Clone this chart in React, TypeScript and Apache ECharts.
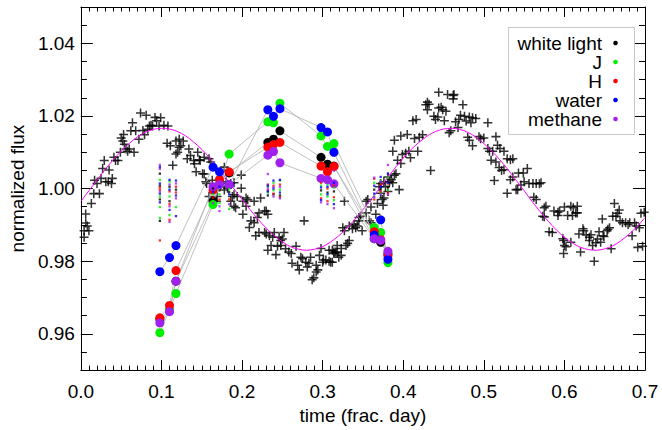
import { useEffect, useRef } from 'react';
import * as echarts from 'echarts';

// ---------- data ----------
// white-light photometry: [time (frac. day), normalized flux]
const whiteLight: number[][] = [
  [0.004, 0.9866], [0.004, 0.9884], [0.006, 0.9905], [0.008, 0.9897], [0.010, 0.9884], [0.006, 0.9930],
  [0.013, 0.9959], [0.016, 0.9986], [0.023, 0.9986], [0.017, 1.0023], [0.020, 1.0014], [0.025, 1.0028],
  [0.027, 1.0055], [0.029, 1.0077], [0.031, 1.0019], [0.034, 1.0019], [0.035, 1.0051], [0.038, 1.0014],
  [0.039, 1.0028], [0.041, 1.0086], [0.043, 1.0077], [0.046, 1.0077], [0.049, 1.0100], [0.050, 1.0139],
  [0.052, 1.0131], [0.054, 1.0122], [0.053, 1.0149], [0.056, 1.0109], [0.060, 1.0109], [0.058, 1.0103],
  [0.062, 1.0159], [0.064, 1.0181], [0.066, 1.0100], [0.068, 1.0159], [0.072, 1.0136], [0.074, 1.0208],
  [0.077, 1.0160], [0.079, 1.0148], [0.081, 1.0202], [0.083, 1.0163], [0.085, 1.0172], [0.087, 1.0174],
  [0.089, 1.0172], [0.092, 1.0196], [0.094, 1.0187], [0.097, 1.0172], [0.099, 1.0195], [0.103, 1.0174],
  [0.108, 1.0172], [0.107, 1.0125], [0.111, 1.0118], [0.114, 1.0064], [0.118, 1.0131], [0.120, 1.0100],
  [0.122, 1.0114], [0.124, 1.0118], [0.127, 1.0131], [0.122, 1.0136], [0.118, 1.0095], [0.134, 1.0109],
  [0.136, 1.0091], [0.132, 1.0082], [0.145, 1.0100], [0.141, 1.0068], [0.143, 1.0046], [0.147, 1.0079],
  [0.153, 1.0040], [0.156, 1.0014], [0.165, 1.0001], [0.169, 0.9978], [0.178, 1.0059], [0.199, 1.0037],
  [0.190, 0.9983], [0.194, 0.9978], [0.201, 0.9965], [0.215, 0.9965], [0.205, 0.9951], [0.201, 0.9929],
  [0.211, 0.9911], [0.209, 0.9893], [0.221, 0.9933], [0.219, 0.9920], [0.221, 0.9879],
  [0.140, 1.0077], [0.148, 1.0077], [0.153, 1.0086], [0.159, 1.0082], [0.161, 1.0073], [0.151, 1.0041],
  [0.155, 1.0019], [0.163, 1.0023], [0.176, 1.0014], [0.180, 1.0019], [0.186, 1.0014], [0.178, 0.9996],
  [0.182, 1.0001], [0.159, 0.9978], [0.168, 0.9965], [0.188, 0.9978], [0.186, 0.9965], [0.190, 0.9951],
  [0.192, 0.9947], [0.205, 0.9974], [0.199, 1.0001],
  [0.190, 1.0016], [0.207, 0.9969], [0.223, 0.9974], [0.215, 0.9906], [0.217, 0.9870], [0.228, 0.9938],
  [0.230, 0.9938], [0.232, 0.9929], [0.228, 0.9879], [0.230, 0.9875], [0.234, 0.9870], [0.240, 0.9879],
  [0.252, 0.9879], [0.238, 0.9866], [0.246, 0.9866], [0.248, 0.9857], [0.250, 0.9861], [0.236, 0.9843],
  [0.244, 0.9841], [0.248, 0.9843], [0.254, 0.9834], [0.258, 0.9825], [0.261, 0.9821], [0.232, 0.9830],
  [0.242, 0.9818], [0.267, 0.9841], [0.277, 0.9911],
  [0.262, 0.9794], [0.269, 0.9789], [0.273, 0.9811], [0.275, 0.9807], [0.279, 0.9797], [0.285, 0.9811],
  [0.283, 0.9794], [0.292, 0.9789], [0.296, 0.9816], [0.300, 0.9797], [0.301, 0.9803],
  [0.271, 0.9776], [0.281, 0.9784], [0.292, 0.9770], [0.294, 0.9776], [0.289, 0.9754], [0.287, 0.9749],
  [0.304, 0.9803], [0.308, 0.9800], [0.310, 0.9797],
  [0.298, 0.9835], [0.308, 0.9830], [0.312, 0.9830], [0.314, 0.9825], [0.323, 0.9816], [0.323, 0.9835],
  [0.318, 0.9824], [0.329, 0.9843], [0.331, 0.9849],
  [0.327, 0.9884], [0.333, 0.9897], [0.337, 0.9889], [0.341, 0.9892], [0.343, 0.9897], [0.347, 0.9924],
  [0.345, 0.9920], [0.325, 0.9892], [0.327, 0.9965],
  [0.354, 0.9965], [0.356, 0.9970], [0.360, 0.9949], [0.368, 0.9959], [0.375, 0.9954],
  [0.387, 1.0103], [0.403, 1.0097], [0.407, 1.0103], [0.418, 1.0103], [0.409, 1.0085], [0.393, 1.0078],
  [0.397, 1.0069], [0.391, 1.0041], [0.389, 1.0037], [0.385, 1.0024], [0.383, 1.0019], [0.395, 0.9997],
  [0.376, 1.0019], [0.372, 1.0014], [0.370, 1.0005], [0.378, 1.0005],
  [0.372, 0.9987], [0.376, 0.9974], [0.374, 0.9970], [0.354, 0.9933], [0.345, 0.9911], [0.339, 0.9902],
  [0.349, 0.9884], [0.358, 0.9911], [0.360, 0.9906], [0.434, 1.0050], [0.366, 0.9929],
  [0.333, 0.9857], [0.318, 0.9843], [0.316, 0.9825], [0.314, 0.9821], [0.312, 0.9797], [0.320, 0.9811],
  [0.444, 1.0265], [0.455, 1.0259], [0.462, 1.0256], [0.463, 1.0259], [0.462, 1.0247], [0.430, 1.0238],
  [0.428, 1.0231], [0.432, 1.0232], [0.430, 1.0217], [0.444, 1.0222], [0.449, 1.0217], [0.447, 1.0224],
  [0.453, 1.0213], [0.438, 1.0199], [0.440, 1.0190], [0.443, 1.0197], [0.451, 1.0187], [0.474, 1.0231],
  [0.471, 1.0202], [0.476, 1.0199], [0.482, 1.0197], [0.486, 1.0195], [0.490, 1.0193], [0.465, 1.0184],
  [0.469, 1.0190], [0.478, 1.0186], [0.484, 1.0181], [0.457, 1.0154], [0.459, 1.0159], [0.468, 1.0168],
  [0.412, 1.0187], [0.416, 1.0190], [0.389, 1.0133], [0.397, 1.0145], [0.405, 1.0149], [0.414, 1.0138],
  [0.420, 1.0141], [0.424, 1.0148], [0.399, 1.0094],
  [0.381, 1.0032], [0.387, 1.0016], [0.381, 0.9992],
  [0.480, 1.0141], [0.482, 1.0133], [0.486, 1.0118], [0.494, 1.0143], [0.496, 1.0137], [0.500, 1.0139],
  [0.505, 1.0181], [0.515, 1.0143], [0.517, 1.0119], [0.520, 1.0110], [0.525, 1.0103], [0.505, 1.0110],
  [0.507, 1.0103], [0.511, 1.0103],
  [0.509, 1.0078], [0.515, 1.0073], [0.519, 1.0058], [0.522, 1.0050], [0.525, 1.0052], [0.529, 1.0082],
  [0.533, 1.0079], [0.536, 1.0082],
  [0.513, 1.0022], [0.529, 0.9987], [0.533, 1.0024], [0.536, 1.0032], [0.540, 0.9997], [0.542, 0.9997],
  [0.546, 1.0010], [0.550, 1.0019], [0.554, 1.0055], [0.556, 1.0014], [0.561, 1.0014], [0.565, 1.0014],
  [0.569, 1.0013], [0.571, 1.0016], [0.543, 1.0043], [0.549, 1.0043],
  [0.562, 0.9976], [0.565, 0.9970],
  [0.575, 0.9947], [0.577, 0.9951], [0.573, 0.9924], [0.575, 0.9922],
  [0.581, 0.9881], [0.585, 0.9879], [0.587, 0.9938], [0.592, 0.9935], [0.592, 0.9926], [0.594, 0.9938],
  [0.600, 0.9949], [0.604, 0.9926], [0.608, 0.9951], [0.611, 0.9947], [0.610, 0.9926], [0.616, 0.9951],
  [0.616, 0.9933], [0.614, 0.9933],
  [0.599, 0.9857], [0.600, 0.9843], [0.599, 0.9821], [0.608, 0.9852], [0.618, 0.9875], [0.623, 0.9889],
  [0.620, 0.9825], [0.627, 0.9872], [0.631, 0.9866], [0.631, 0.9857], [0.637, 0.9800], [0.635, 0.9843],
  [0.641, 0.9861], [0.643, 0.9881], [0.645, 0.9852], [0.648, 0.9870], [0.656, 0.9892], [0.653, 0.9884],
  [0.660, 0.9924], [0.662, 0.9959], [0.666, 0.9932], [0.668, 0.9941], [0.669, 0.9911], [0.672, 0.9906],
  [0.676, 0.9906], [0.679, 0.9901], [0.681, 0.9906], [0.684, 0.9870], [0.687, 0.9906], [0.689, 0.9897],
  [0.693, 0.9892], [0.695, 0.9932], [0.699, 0.9935], [0.691, 0.9838], [0.697, 0.9841],
  [0.598, 0.9862], [0.602, 0.9840], [0.624, 0.9884], [0.633, 0.9873], [0.639, 0.9851], [0.647, 0.9916],
  [0.649, 0.9868], [0.654, 0.9888], [0.658, 0.9834], [0.664, 0.9924],
];

// sinusoidal model (magenta), read every 0.01 day
const modelTime = [
  0.00, 0.01, 0.02, 0.03, 0.04, 0.05, 0.06, 0.07, 0.08, 0.09, 0.10, 0.11, 0.12, 0.13, 0.14, 0.15, 0.16, 0.17,
  0.18, 0.19, 0.20, 0.21, 0.22, 0.23, 0.24, 0.25, 0.26, 0.27, 0.28, 0.29, 0.30, 0.31, 0.32, 0.33, 0.34, 0.35,
  0.36, 0.37, 0.38, 0.39, 0.40, 0.41, 0.42, 0.43, 0.44, 0.45, 0.46, 0.47, 0.48, 0.49, 0.50, 0.51, 0.52, 0.53,
  0.54, 0.55, 0.56, 0.57, 0.58, 0.59, 0.60, 0.61, 0.62, 0.63, 0.64, 0.65, 0.66, 0.67, 0.68, 0.69, 0.70,
];
const modelFlux = [
  0.9965, 0.9994, 1.0023, 1.0052, 1.0079, 1.0103, 1.0124, 1.0142, 1.0155, 1.0163, 1.0166, 1.0164, 1.0157,
  1.0145, 1.0128, 1.0108, 1.0084, 1.0057, 1.0029, 0.9999, 0.9970, 0.9942, 0.9915, 0.9891, 0.9870, 0.9853,
  0.9840, 0.9833, 0.9830, 0.9833, 0.9840, 0.9853, 0.9870, 0.9891, 0.9915, 0.9942, 0.9970, 0.9999, 1.0029,
  1.0057, 1.0084, 1.0108, 1.0128, 1.0145, 1.0157, 1.0164, 1.0166, 1.0163, 1.0155, 1.0142, 1.0124, 1.0103,
  1.0079, 1.0052, 1.0023, 0.9994, 0.9964, 0.9936, 0.9910, 0.9886, 0.9866, 0.9850, 0.9838, 0.9832, 0.9830,
  0.9834, 0.9842, 0.9856, 0.9874, 0.9895, 0.9920,
];

// multi-band points (large circles), 5 visits x 3 exposures
const bandTime = [
  0.098, 0.110, 0.118, 0.164, 0.172, 0.184, 0.232, 0.239, 0.247, 0.298, 0.306, 0.314, 0.364, 0.372, 0.381,
];
const whiteBand = [
  0.9640, 0.9665, 0.9745, 0.9965, 1.0011, 1.0043, 1.0127, 1.0136, 1.0159, 1.0086, 1.0067, 1.0062, 0.9862, 0.9852, 0.9820,
];
const jBand = [
  0.9603, 0.9665, 0.9711, 0.9956, 1.0011, 1.0095, 1.0184, 1.0181, 1.0235, 1.0145, 1.0116, 1.0124, 0.9893, 0.9879, 0.9796,
];
const hBand = [
  0.9644, 0.9678, 0.9774, 0.9996, 1.0025, 1.0046, 1.0114, 1.0121, 1.0127, 1.0062, 1.0046, 1.0061, 0.9881, 0.9859, 0.9815,
];
const waterBand = [
  0.9771, 0.9810, 0.9843, 1.0059, 1.0046, 1.0011, 1.0217, 1.0199, 1.0220, 1.0168, 1.0156, 1.0100, 0.9872, 0.9914, 0.9805,
];
const methaneBand = [
  0.9630, 0.9661, 0.9745, 1.0005, 1.0011, 1.0011, 1.0092, 1.0102, 1.0071, 1.0028, 1.0024, 1.0013, 0.9862, 0.9857, 0.9827,
];

// comparison-star values (small dots): [time, flux]
const whiteDots = [
  [0.098, 1.0041], [0.098, 1.0008], [0.098, 0.9970], [0.098, 0.9911],
  [0.110, 1.0005], [0.110, 0.9965], [0.118, 0.9997],
  [0.164, 1.0000], [0.172, 0.9995], [0.184, 0.9990],
  [0.232, 0.9981], [0.239, 0.9984], [0.247, 0.9981],
  [0.298, 0.9995], [0.306, 0.9989], [0.314, 0.9992],
  [0.364, 0.9997], [0.372, 1.0000], [0.381, 1.0005],
];
const jDots = [
  [0.098, 1.0024], [0.098, 0.9978], [0.098, 0.9949], [0.098, 0.9919],
  [0.110, 1.0019], [0.110, 0.9978], [0.110, 0.9927], [0.118, 0.9949],
  [0.164, 0.9985], [0.172, 0.9984], [0.172, 0.9960], [0.184, 0.9998], [0.184, 0.9944],
  [0.232, 1.0005], [0.232, 0.9989], [0.239, 1.0016], [0.239, 0.9995], [0.247, 1.0022], [0.247, 0.9997],
  [0.298, 1.0008], [0.298, 0.9984], [0.306, 1.0011], [0.306, 0.9978], [0.314, 1.0003], [0.314, 0.9968],
  [0.364, 1.0016], [0.364, 0.9978], [0.372, 1.0022], [0.372, 0.9989], [0.381, 1.0030], [0.381, 0.9995],
];
const hDots = [
  [0.098, 1.0003], [0.098, 0.9997], [0.098, 0.9857],
  [0.110, 0.9992], [0.110, 0.9957], [0.110, 0.9914], [0.118, 1.0005], [0.118, 0.9989],
  [0.164, 0.9975], [0.172, 0.9970], [0.184, 0.9970],
  [0.232, 1.0011], [0.232, 0.9995], [0.239, 1.0008], [0.239, 0.9986], [0.247, 1.0011], [0.247, 0.9976],
  [0.298, 1.0016], [0.298, 0.9973], [0.306, 1.0000], [0.306, 0.9965], [0.314, 1.0008], [0.314, 0.9976],
  [0.364, 1.0027], [0.364, 0.9970], [0.372, 1.0011], [0.372, 0.9992], [0.381, 1.0014], [0.381, 0.9989],
];
const waterDots = [
  [0.098, 1.0059], [0.098, 1.0014], [0.098, 0.9986], [0.098, 0.9962],
  [0.110, 1.0024], [0.110, 0.9997], [0.110, 0.9941], [0.118, 1.0022], [0.118, 0.9981], [0.118, 0.9924],
  [0.164, 0.9990], [0.172, 1.0005], [0.184, 0.9984],
  [0.232, 1.0008], [0.232, 0.9992], [0.239, 1.0022], [0.239, 1.0000], [0.247, 1.0024], [0.247, 0.9989],
  [0.298, 1.0003], [0.298, 0.9968], [0.306, 1.0005], [0.306, 0.9984], [0.314, 1.0016], [0.314, 0.9957],
  [0.364, 1.0008], [0.364, 0.9986], [0.372, 1.0032], [0.372, 1.0005], [0.381, 1.0041], [0.381, 1.0016],
];
const methaneDots = [
  [0.098, 1.0065], [0.098, 1.0054], [0.098, 0.9992],
  [0.110, 1.0011], [0.110, 0.9951], [0.110, 0.9908], [0.118, 1.0014], [0.118, 0.9973],
  [0.164, 0.9960], [0.172, 0.9951], [0.172, 0.9938], [0.184, 0.9957],
  [0.232, 1.0040], [0.232, 1.0000], [0.239, 1.0003], [0.239, 0.9978], [0.247, 1.0005], [0.247, 0.9973],
  [0.298, 1.0022], [0.298, 0.9962], [0.306, 1.0016], [0.306, 0.9957], [0.314, 1.0049], [0.314, 0.9946],
  [0.364, 1.0030], [0.364, 0.9976], [0.372, 1.0019], [0.372, 0.9984], [0.381, 1.0065], [0.381, 0.9984],
];

const legendNames = ['white light', 'J', 'H', 'water', 'methane'];
const yMajorTicks = [0.96, 0.98, 1.0, 1.02, 1.04];
const yMinorTicks = [
  0.955, 0.96, 0.965, 0.97, 0.975, 0.98, 0.985, 0.99, 0.995, 1.0, 1.005, 1.01, 1.015, 1.02, 1.025, 1.03,
  1.035, 1.04, 1.045,
];

// ---------- styling ----------
const FONT = 'Liberation Sans';
const FS = 19;
const COLORS = ['#000000', '#00ee00', '#ff0000', '#0000ff', '#a020f0'];
const CROSS = 'path://M-5,-0.85 H5 V0.85 H-5 Z M-0.85,-5 H0.85 V5 H-0.85 Z';

export default function App() {
  const ref = useRef<HTMLDivElement>(null);

  useEffect(() => {
    if (!ref.current) return;
    const chart = echarts.init(ref.current, null, { renderer: 'svg' });

    const bands = [whiteBand, jBand, hBand, waterBand, methaneBand];
    const dots = [whiteDots, jDots, hDots, waterDots, methaneDots];

    const xBase = (pos: 'top' | 'bottom', labels: boolean) => ({
      type: 'value',
      min: 0,
      max: 0.7,
      interval: 0.1,
      position: pos,
      axisLine: { show: true, onZero: false, lineStyle: { color: '#000', width: 1 } },
      axisTick: { show: true, inside: true, length: 10, lineStyle: { color: '#000', width: 1 } },
      minorTick: { show: true, splitNumber: 10, length: 4.5, lineStyle: { color: '#000', width: 1 } },
      splitLine: { show: false },
      minorSplitLine: { show: false },
      axisLabel: {
        show: labels,
        formatter: (v: number) => v.toFixed(1),
        fontFamily: FONT,
        fontSize: FS,
        color: '#000',
        margin: 12,
      },
    });

    const yBase = (pos: 'left' | 'right', major: boolean, labels: boolean) => ({
      type: 'value',
      min: 0.95,
      max: 1.05,
      position: pos,
      axisLine: { show: major, onZero: false, lineStyle: { color: '#000', width: 1 } },
      axisTick: {
        show: true,
        inside: true,
        length: major ? 12 : 6,
        customValues: major ? yMajorTicks : yMinorTicks,
        lineStyle: { color: '#000', width: 1 },
      },
      splitLine: { show: false },
      axisLabel: {
        show: labels,
        customValues: yMajorTicks,
        formatter: (v: number) => v.toFixed(2),
        fontFamily: FONT,
        fontSize: FS,
        color: '#000',
        margin: 6,
      },
    });

    const xAxis = [
      {
        ...xBase('bottom', true),
        name: 'time (frac. day)',
        nameLocation: 'middle',
        nameGap: 33,
        nameTextStyle: { fontFamily: FONT, fontSize: FS, color: '#000' },
      },
      xBase('top', false),
    ];
    const yAxis = [
      {
        ...yBase('left', true, true),
        name: 'normalized flux',
        nameLocation: 'middle',
        nameGap: 48,
        nameTextStyle: { fontFamily: FONT, fontSize: FS, color: '#000' },
      },
      yBase('left', false, false),
      yBase('right', true, false),
      yBase('right', false, false),
    ];

    const series: any[] = [
      {
        type: 'scatter',
        name: 'white light photometry',
        data: whiteLight,
        symbol: CROSS,
        symbolSize: [9, 9],
        itemStyle: { color: '#000' },
        silent: true,
        z: 2,
      },
      {
        type: 'line',
        name: 'model',
        data: modelTime.map((t, i) => [t, modelFlux[i]]),
        smooth: 0.3,
        showSymbol: false,
        symbol: 'none',
        lineStyle: { color: '#ff00ff', width: 1 },
        silent: true,
        z: 3,
      },
    ];
    bands.forEach((b, k) => {
      series.push({
        type: 'line',
        name: legendNames[k],
        data: bandTime.map((t, i) => [t, b[i]]),
        symbol: 'circle',
        symbolSize: 9,
        showSymbol: true,
        lineStyle: { color: '#b0b0b0', width: 0.8 },
        itemStyle: { color: COLORS[k] },
        silent: true,
        z: 4,
      });
    });
    dots.forEach((d, k) => {
      series.push({
        type: 'scatter',
        name: legendNames[k] + ' stars',
        data: d,
        symbol: 'rect',
        symbolSize: 2.3,
        itemStyle: { color: COLORS[k] },
        silent: true,
        z: 5,
      });
    });

    const legendTop = 43;
    const legendStep = 19;
    const graphic: any[] = [
      {
        type: 'rect',
        shape: { x: 508.5, y: 27.5, width: 126, height: 107 },
        style: { fill: '#fff', stroke: '#c8c8c8', lineWidth: 1 },
        z: 100,
      },
    ];
    legendNames.forEach((n, k) => {
      graphic.push({
        type: 'text',
        x: 602,
        y: legendTop + k * legendStep,
        style: {
          text: n,
          fill: '#000',
          fontFamily: FONT,
          fontSize: FS,
          align: 'right',
          verticalAlign: 'middle',
        },
        z: 101,
      });
      graphic.push({
        type: 'circle',
        shape: { cx: 615.5, cy: legendTop + k * legendStep, r: 2.3 },
        style: { fill: COLORS[k] },
        z: 101,
      });
    });

    chart.setOption({
      animation: false,
      backgroundColor: '#fff',
      grid: { left: 80, right: 17, top: 7, bottom: 53, containLabel: false },
      xAxis,
      yAxis,
      series,
      graphic,
    } as any);

    return () => chart.dispose();
  }, []);

  return <div ref={ref} style={{ position: 'fixed', left: 0, top: 0, width: 662, height: 430 }} />;
}
